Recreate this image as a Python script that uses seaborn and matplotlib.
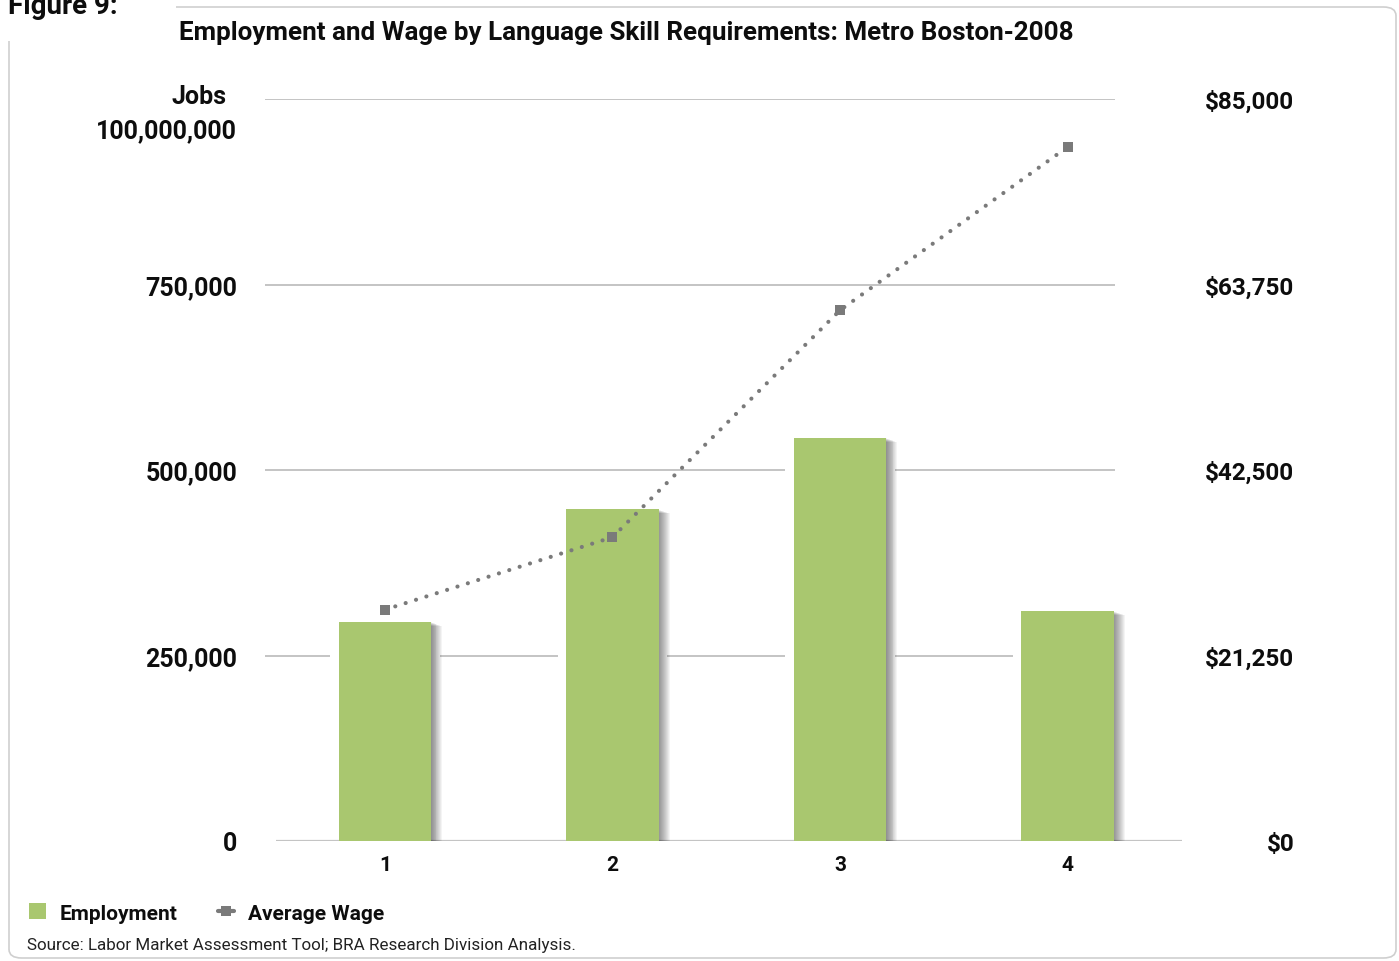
import numpy as np
import pandas as pd
import matplotlib
matplotlib.use("Agg")
import matplotlib.pyplot as plt
import matplotlib.patheffects as pe
from matplotlib.patches import FancyBboxPatch, Rectangle, Patch
from matplotlib.lines import Line2D
from matplotlib.transforms import ScaledTranslation
import seaborn as sns

# ---- data -------------------------------------------------------------
categories = ["1", "2", "3", "4"]
employment = [295000, 447000, 543000, 310000]
avg_wage = [26500, 34800, 60800, 79500]

jobs_ticks = [0, 250000, 500000, 750000, 1000000]
jobs_labels = ["0", "250,000", "500,000", "750,000", "100,000,000"]
wage_ticks = [0, 21250, 42500, 63750, 85000]
wage_labels = ["$0", "$21,250", "$42,500", "$63,750", "$85,000"]

title = "Employment and Wage by Language Skill Requirements: Metro Boston-2008"
source = "Source: Labor Market Assessment Tool; BRA Research Division Analysis."

# ---- style ------------------------------------------------------------
sns.set_theme(style="white")
plt.rcParams["font.family"] = ["Roboto", "DejaVu Sans"]

GREEN = "#a9c76f"
GRAY = "#7a7a7a"
GRID = "#c4c4c4"
INK = "#0d0d0d"

W, H = 1399, 962
fig = plt.figure(figsize=(W / 100, H / 100), dpi=100)
fig.patch.set_facecolor("white")


def fx(x):
    return x / W


def fy(y):
    return 1 - y / H


# rounded frame around the whole figure
frame = FancyBboxPatch((fx(9), fy(959)), fx(1396) - fx(9), fy(8) - fy(959),
                       boxstyle="round,pad=0,rounding_size=0.009",
                       transform=fig.transFigure, facecolor="none",
                       edgecolor="#cfcfcf", linewidth=1.2, zorder=0)
fig.patches.append(frame)
fig.patches.append(Rectangle((0, fy(42)), fx(176), 1 - fy(42),
                             transform=fig.transFigure, facecolor="white",
                             edgecolor="none", zorder=1))
fig.text(fx(8), fy(14), "Figure 9:", fontsize=20, fontweight="bold",
         ha="left", va="baseline", color=INK, zorder=2)

# plotting area: x from the "0" baseline start to its end, y from 0 to 1M
ax = fig.add_axes([fx(265), fy(842), fx(1182) - fx(265), fy(100) - fy(842)])
ax.set_facecolor("none")

# white backing bars keep the grid lines clear of each column
sns.barplot(x=categories, y=employment, color="white", width=0.48,
            errorbar=None, ax=ax, zorder=2, saturation=1, linewidth=0,
            edgecolor="none")
sns.barplot(x=categories, y=employment, color=GREEN, width=0.405,
            errorbar=None, ax=ax, zorder=3, saturation=1, linewidth=0,
            edgecolor="none")

# soft drop shadow to the lower right of each column
shadow = [pe.SimplePatchShadow(offset=(d, -d * 0.35), shadow_rgbFace="black",
                               alpha=0.045) for d in np.linspace(0.6, 8.0, 12)]
for bar in ax.containers[1]:
    bar.set_path_effects(shadow + [pe.Normal()])

pos = np.arange(len(categories))
ax.set_xlim(-0.527, 3.503)
ax.set_ylim(0, 1000000)

# horizontal rules
ax.hlines(jobs_ticks[1:], -0.527, 3.21, colors=GRID, linewidth=1.4, zorder=1)
ax.hlines([0], -0.48, 3.503, colors=GRID, linewidth=1.6, zorder=2.5)

for s in ax.spines.values():
    s.set_visible(False)
ax.set_yticks(jobs_ticks)
ax.set_yticklabels(jobs_labels)
ax.tick_params(axis="y", length=0, pad=20, labelsize=18)
ax.tick_params(axis="x", length=0, pad=10, labelsize=15)
for lab in ax.get_yticklabels() + ax.get_xticklabels():
    lab.set_fontweight("bold")
    lab.set_color(INK)
top_lab = ax.get_yticklabels()[-1]
top_lab.set_transform(top_lab.get_transform() +
                      ScaledTranslation(0, -0.29, fig.dpi_scale_trans))
ax.text(fx(227), fy(97), "Jobs", transform=fig.transFigure, ha="right",
        va="center", fontsize=18, fontweight="bold", color=INK)
ax.set_xlabel("")
ax.set_ylabel("")

# wage line on the secondary axis
ax2 = ax.twinx()
sns.lineplot(x=pos, y=avg_wage, ax=ax2, color=GRAY, linewidth=3,
             linestyle=(0, (0.01, 2.6)), dash_capstyle="round",
             marker="s", markersize=7, markeredgewidth=0, zorder=5)
ax2.set_ylim(0, 85000)
ax2.set_yticks(wage_ticks)
ax2.set_yticklabels(wage_labels)
ax2.tick_params(axis="y", length=0, pad=81, labelsize=17.5)
for lab in ax2.get_yticklabels():
    lab.set_fontweight("bold")
    lab.set_color(INK)
    lab.set_horizontalalignment("right")
for s in ax2.spines.values():
    s.set_visible(False)
ax2.set_ylabel("")
ax2.grid(False)
ax.grid(False)

# title, legend, source note
fig.text(fx(179), fy(33), title, fontsize=18.7, fontweight="bold",
         ha="left", va="center", color=INK)

handles = [Patch(facecolor=GREEN, edgecolor="none"),
           Line2D([], [], color=GRAY, linewidth=3, marker="s",
                  markersize=7, markeredgewidth=0)]
fig.legend(handles, ["Employment", "Average Wage"], loc="center left",
           bbox_to_anchor=(fx(29), fy(914)), ncol=2, frameon=False,
           prop={"weight": "bold", "size": 15}, labelcolor=INK,
           handlelength=0.8, handleheight=0.8, handletextpad=0.65,
           columnspacing=1.95, borderpad=0, borderaxespad=0)

fig.text(fx(27), fy(946), source, fontsize=12.25, ha="left", va="center",
         color="#222222")

fig.savefig("out.png", dpi=100)
